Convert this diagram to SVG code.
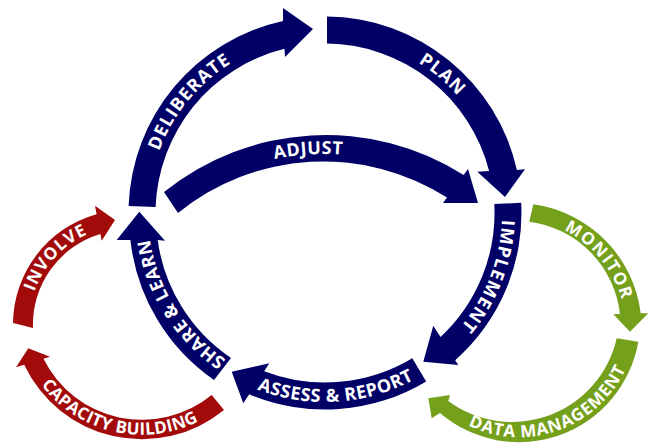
<svg xmlns="http://www.w3.org/2000/svg" width="649" height="448" viewBox="0 0 649 448">
<style>
.blue{fill:#000066}
.red{fill:#A30B0B}
.green{fill:#74A01C}
.lbl{font-family:"Open Sans","Liberation Sans",sans-serif;font-weight:700;fill:#ffffff;text-anchor:middle}
.b{font-size:18px;letter-spacing:0.5px}
.s{font-size:17px;letter-spacing:1px}
</style>
<defs>
<path id="tDelib" d="M150.33,184.40 A177,177 0 0 1 262.44,47.43"/>
<path id="tPlan" d="M371.70,42.27 A177,177 0 0 1 485.81,139.04"/>
<path id="tImpl" d="M492.56,155.96 A177,177 0 0 1 410.27,368.11"/>
<path id="tAssess" d="M200.01,354.77 A189,189 0 0 0 466.77,337.99"/>
<path id="tShare" d="M242.45,369.57 A177,177 0 0 1 148.13,219.79"/>
<path id="tAdjust" d="M228.34,174.07 A238,238 0 0 1 390.80,163.57"/>
<path id="tInvolve" d="M29.64,310.92 A98.6,98.6 0 0 1 106.79,227.90"/>
<path id="tCap" d="M25.15,356.29 A125.9,125.9 0 0 0 225.81,402.61"/>
<path id="tMon" d="M545.41,223.28 A109,109 0 0 1 625.16,320.02"/>
<path id="tData" d="M443.63,409.57 A117.2,117.2 0 0 0 634.49,340.45"/>
</defs>
<g id="connectors"></g>
<g id="deliberate">
<path class="blue" d="M128.6,206.1 A196.5,196.5 0 0 1 283,21 L283,8 L313,29 L285,57 L284.5,48.8 A169.5,169.5 0 0 0 155.6,207.1 Z"/>
<text class="lbl b" style="letter-spacing:1px"><textPath href="#tDelib" startOffset="50%">DELIBERATE</textPath></text>
</g>
<g id="plan">
<path class="blue" d="M327,16.5 A196.5,196.5 0 0 1 516.9,170 L525,169.3 L505,197 L477.3,171.7 L489.1,171 A169.5,169.5 0 0 0 327,43.5 Z"/>
<text class="lbl b" style="letter-spacing:1px"><textPath href="#tPlan" startOffset="50%">PLAN</textPath></text>
</g>
<g id="implement">
<path class="blue" d="M521.2,202.7 A196.5,196.5 0 0 1 455.2,360.2 L458.3,365 L423.3,361.7 L433.3,325.7 L440.5,337 A169.5,169.5 0 0 0 494.3,204.1 Z"/>
<text class="lbl b" style="letter-spacing:1.2px"><textPath href="#tImpl" startOffset="50%">IMPLEMENT</textPath></text>
</g>
<g id="assess">
<path class="blue" d="M426.2,381.4 A196.5,196.5 0 0 1 249.2,394.3 L243.3,403.3 L231.7,371.7 L269.3,363.3 L264.2,371.2 A169.5,169.5 0 0 0 412.3,358.3 Z"/>
<text class="lbl b"><textPath href="#tAssess" startOffset="50%">ASSESS &amp; REPORT</textPath></text>
</g>
<g id="share">
<path class="blue" d="M214,380 A196.5,196.5 0 0 1 130.4,240 L116.7,240 L139.3,211.7 L165,240.7 L157.7,240 A169.5,169.5 0 0 0 231,358 Z"/>
<text class="lbl b"><textPath href="#tShare" startOffset="50%">SHARE &amp; LEARN</textPath></text>
</g>
<g id="adjust">
<path class="blue" d="M164,192 A258,258 0 0 1 463.6,175 L468,169 L478,203 L443,203 L447,197.6 A230,230 0 0 0 178,213 Z"/>
<text class="lbl b"><textPath href="#tAdjust" startOffset="50%">ADJUST</textPath></text>
</g>
<g id="involve">
<path class="red" d="M13,323 A114.5,114.5 0 0 1 96.6,214.2 L95,205.7 L115,220 L101.7,240.7 L100.4,234 A94.5,94.5 0 0 0 33,328 Z"/>
<text class="lbl s"><textPath href="#tInvolve" startOffset="50%">INVOLVE</textPath></text>
</g>
<g id="capacity">
<path class="red" d="M224,410 A130,130 0 0 1 24.2,364.8 L16,367.3 L28.3,348.3 L50,356.7 L43.5,358.7 A110,110 0 0 0 211.7,395 Z"/>
<text class="lbl s" style="letter-spacing:0.3px"><textPath href="#tCap" startOffset="50%">CAPACITY BUILDING</textPath></text>
</g>
<g id="monitor">
<path class="green" d="M533.3,204.3 A125.5,125.5 0 0 1 640.7,313.3 L648.3,313.3 L630,331.7 L613.3,314.3 L620,314 A105,105 0 0 0 529.3,221.7 Z"/>
<text class="lbl s" style="letter-spacing:1.5px"><textPath href="#tMon" startOffset="50%">MONITOR</textPath></text>
</g>
<g id="data">
<path class="green" d="M638.3,341.7 A121.2,121.2 0 0 1 440,413 L431.7,418.3 L428.3,398.3 L450,395 L448.3,401 A107.3,107.3 0 0 0 616.7,338.3 Z"/>
<text class="lbl s" style="letter-spacing:0.8px"><textPath href="#tData" startOffset="50%">DATA MANAGEMENT</textPath></text>
</g>
</svg>
